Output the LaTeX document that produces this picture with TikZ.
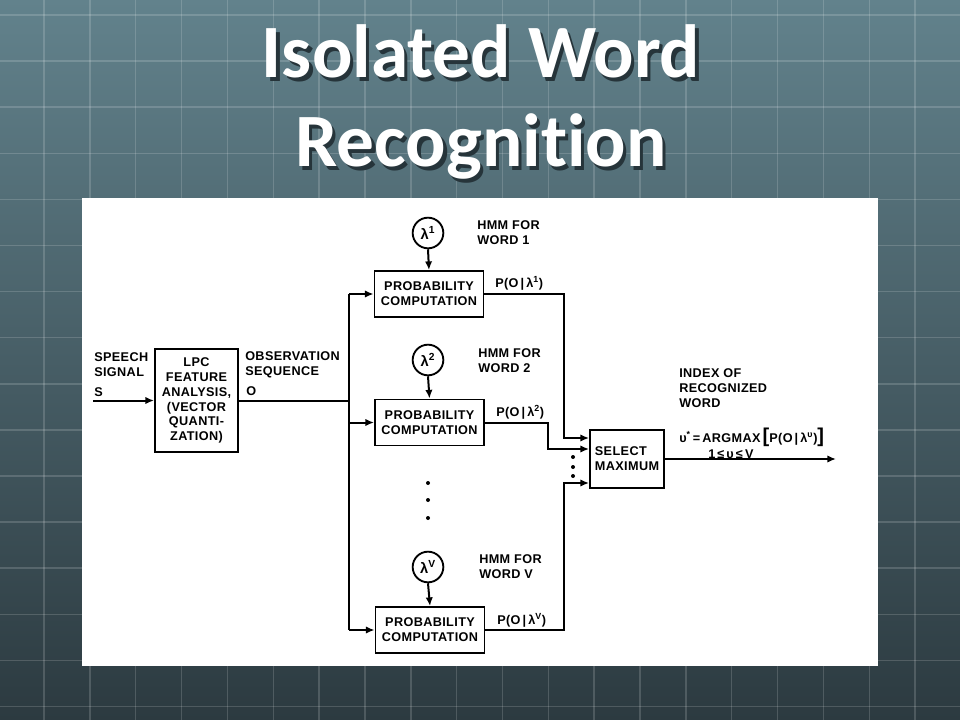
\documentclass[tikz,border=0pt]{standalone}
\usepackage{fontspec}
\setmainfont{Liberation Sans}
\newfontfamily\diagfont[LetterSpace=3]{Liberation Sans}
\newfontfamily\titlefont[Ligatures=NoCommon]{Carlito}
\usetikzlibrary{arrows.meta}
\definecolor{bgtop}{RGB}{98,130,140}
\definecolor{bgbot}{RGB}{44,58,64}
\definecolor{shadowc}{RGB}{38,52,58}
\newcommand{\shadowed}[1]{\makebox[0pt][l]{\hspace{2.4pt}\raisebox{-2.4pt}{\textcolor{shadowc}{#1}}}#1}
\begin{document}
\begin{tikzpicture}[x=0.75pt,y=-0.75pt,
  lbl/.style={font=\diagfont\fontsize{9.5}{11.1}\selectfont\bfseries, inner sep=0pt, align=left, anchor=west},
  boxn/.style={draw, line width=1.4pt, fill=white, font=\diagfont\fontsize{9.5}{11.1}\selectfont\bfseries, align=center, inner sep=0pt},
  pbox/.style={boxn, minimum width=81.75pt, minimum height=34.5pt},
  circ/.style={draw, circle, line width=1.4pt, fill=white, minimum size=23pt, inner sep=0pt, font=\fontsize{11}{11}\selectfont\bfseries},
  wire/.style={line width=1.5pt},
  arr/.style={wire, -{Latex[length=6.5pt,width=5.5pt]}},
  gridln/.style={white, opacity=0.16, line width=1.1pt},
  titletxt/.style={font=\titlefont\fontsize{56.5}{66}\selectfont\bfseries, inner sep=0pt, anchor=base, text=white},
  dotm/.style={fill=black}
]
% background
\shade[top color=bgtop, bottom color=bgbot] (0,0) rectangle (960,720);
\useasboundingbox (0,0) rectangle (960,720);
\foreach \i in {0,...,21} \draw[gridln] ({-1.85+45.85*\i},0) -- ++(0,720);
\foreach \j in {0,...,15} \draw[gridln] (0,{15+46.1*\j}) -- ++(960,0);

% title
\node[titletxt] (t1) at (481,78) {\shadowed{Isolated Word}};
\node[titletxt] (t2) at (481,167) {\shadowed{Recognition}};

% white panel
\fill[white] (82,198) rectangle (878,666);

% blocks
\node[boxn, minimum width=62.25pt, minimum height=77.25pt] (lpc) at (196.5,400.5)
  {LPC\\FEATURE\\ANALYSIS,\\(VECTOR\\QUANTI-\\ZATION)};
\node[pbox] (p1) at (429,294) {PROBABILITY\\COMPUTATION};
\node[pbox] (p2) at (429.5,422.5) {PROBABILITY\\COMPUTATION};
\node[pbox] (pV) at (430,630) {PROBABILITY\\COMPUTATION};
\node[circ] (l1) at (428,233) {λ\textsuperscript{1}};
\node[circ] (l2) at (428,360) {λ\textsuperscript{2}};
\node[circ] (lV) at (428,567) {λ\textsuperscript{V}};
\node[boxn, align=left, minimum width=55.5pt, minimum height=43.5pt] (sel) at (627,459) {SELECT\\MAXIMUM};

% coordinates
\coordinate (sin) at (93,400.5);
\coordinate (j0) at (349,400.5);
\coordinate (b1) at (349,294);
\coordinate (b2) at (349,422.5);
\coordinate (b3) at (349,630);
\coordinate (c1) at (564,438);
\coordinate (c2) at (548,449);
\coordinate (c3) at (564,483);
\coordinate (out) at (836,459);

% connectors
\draw[arr] (sin) -- (lpc.west);
\draw[wire] (lpc.east) -- (j0);
\draw[wire] (b1) -- (b3);
\draw[arr] (b1) -- (p1.west);
\draw[arr] (b2) -- (p2.west);
\draw[arr] (b3) -- (pV.west);
\draw[arr] (l1.south) -- (p1.north);
\draw[arr] (l2.south) -- (p2.north);
\draw[arr] (lV.south) -- (pV.north);
\draw[arr] (p1.east) -| (c1) -- (c1 -| sel.west);
\draw[arr] (p2.east) -| (c2) -- (c2 -| sel.west);
\draw[arr] (pV.east) -| (c3) -- (c3 -| sel.west);
\draw[arr] (sel.east) -- (out);

% dots
\foreach \y in {457,467,476} \fill[dotm] (573,\y) circle[radius=1.5pt];
\foreach \y in {483,500,518} \fill[dotm] (428,\y) circle[radius=1.5pt];

% labels
\node[lbl] (speech) at (94,364.5) {SPEECH\\SIGNAL};
\node[lbl] (s) at (94,392) {S};
\node[lbl] (obs) at (245,364.5) {OBSERVATION\\SEQUENCE};
\node[lbl] (o) at (246,391) {O};
\node[lbl] (h1) at (477,232.5) {HMM FOR\\WORD 1};
\node[lbl] (pl1) at (495,283) {P(O\,|\,λ\textsuperscript{1})};
\node[lbl] (h2) at (478,361) {HMM FOR\\WORD 2};
\node[lbl] (pl2) at (496,412) {P(O\,|\,λ\textsuperscript{2})};
\node[lbl] (hV) at (479,567) {HMM FOR\\WORD V};
\node[lbl] (plV) at (497,620) {P(O\,|\,λ\textsuperscript{V})};
\node[lbl] (idx) at (679,388) {INDEX OF\\RECOGNIZED\\WORD};
\node[lbl] (argm) at (679,437) {υ\textsuperscript{*}\,=\,ARGMAX\,{\fontsize{15}{15}\selectfont[}P(O\,|\,λ\textsuperscript{υ}){\fontsize{15}{15}\selectfont]}};
\node[lbl] (rng) at (708,454) {1\,≤\,υ\,≤\,V};
\end{tikzpicture}
\end{document}
